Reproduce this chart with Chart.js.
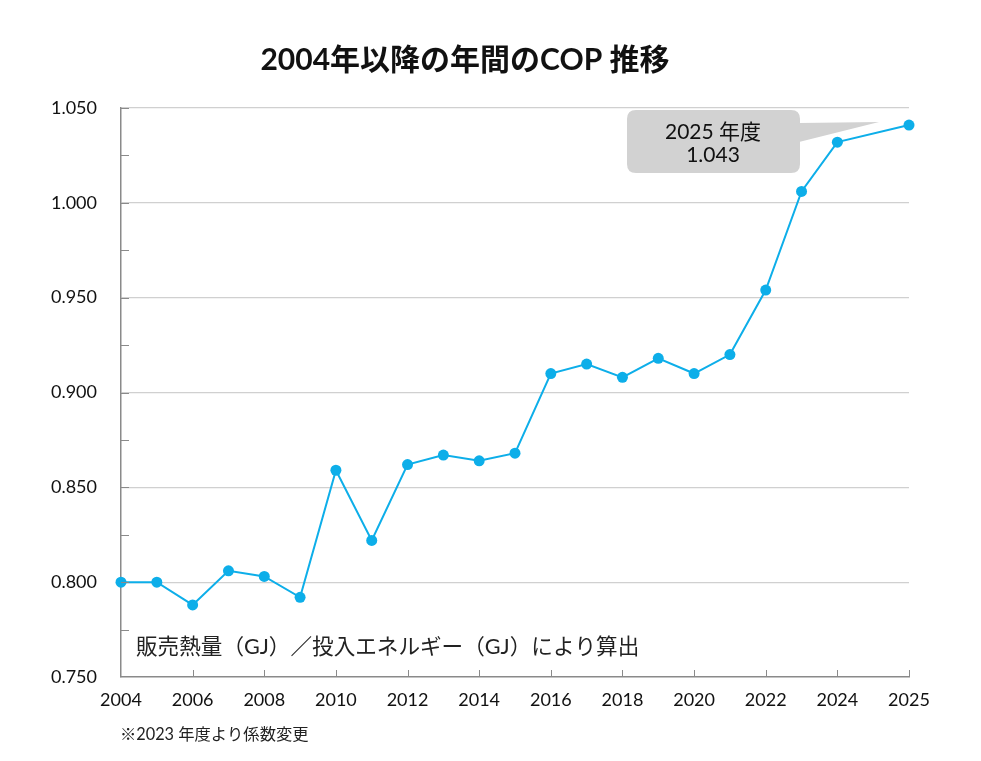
<!DOCTYPE html>
<html>
<head>
<meta charset="utf-8">
<script src="https://cdn.jsdelivr.net/npm/chart.js@4/dist/chart.umd.min.js"></script>
<style>
  html, body { margin: 0; padding: 0; background: #fff; }
  #wrap { width: 981px; height: 761px; position: relative; }
</style>
</head>
<body>
<div id="wrap"><canvas id="copChart"></canvas></div>
<script>
// data
// the source axis leaves one empty slot between 2024 and 2025
const axisSlots = ['2004', '2005', '2006', '2007', '2008', '2009', '2010', '2011', '2012', '2013', '2014',
  '2015', '2016', '2017', '2018', '2019', '2020', '2021', '2022', '2023', '2024', '', '2025'];
const years = ['2004', '2005', '2006', '2007', '2008', '2009', '2010', '2011', '2012', '2013', '2014',
  '2015', '2016', '2017', '2018', '2019', '2020', '2021', '2022', '2023', '2024', '2025'];
const copValues = [0.800, 0.800, 0.788, 0.806, 0.803, 0.792, 0.859, 0.822, 0.862, 0.867, 0.864,
  0.868, 0.910, 0.915, 0.908, 0.918, 0.910, 0.920, 0.954, 1.006, 1.032, 1.041];
const xTickYears = ['2004', '2006', '2008', '2010', '2012', '2014', '2016', '2018', '2020', '2022', '2024', '2025'];
const calloutLines = ['2025 年度', '1.043'];

const titleText = '2004年以降の年間のCOP 推移';
const noteText = '販売熱量（GJ）／投入エネルギー（GJ）により算出';
const footText = '※2023 年度より係数変更';

const FONT = 'Lato, "Noto Sans CJK JP", sans-serif';
const LINE_COLOR = '#0daee9';

const seriesData = axisSlots.map(s => {
  const i = years.indexOf(s);
  return i >= 0 ? copValues[i] : null;
});

// titles, note text, inner tick marks and the callout box
const decorations = {
  id: 'decorations',
  afterDraw(chart) {
    const ctx = chart.ctx;
    const x = chart.scales.x, y = chart.scales.y;
    const area = chart.chartArea;
    ctx.save();

    // inner tick marks on the y axis
    ctx.strokeStyle = '#8a8a8a';
    ctx.lineWidth = 1;
    for (let k = 1; k <= 12; k++) {
      const py = Math.round(y.getPixelForValue(0.75 + k * 0.025)) + 0.5;
      ctx.beginPath();
      ctx.moveTo(area.left, py);
      ctx.lineTo(area.left + 8, py);
      ctx.stroke();
    }
    // inner tick marks on the x axis
    xTickYears.slice(1).forEach(yr => {
      const px = Math.round(x.getPixelForValue(axisSlots.indexOf(yr))) + 0.5;
      ctx.beginPath();
      ctx.moveTo(px, area.bottom);
      ctx.lineTo(px, area.bottom - 7);
      ctx.stroke();
    });

    // title
    ctx.fillStyle = '#111';
    ctx.font = 'bold 30px ' + FONT;
    ctx.textAlign = 'center';
    ctx.textBaseline = 'middle';
    ctx.fillText(titleText, 465, 60);

    // note inside the plot
    ctx.font = '21.6px ' + FONT;
    ctx.textAlign = 'left';
    ctx.fillStyle = '#222';
    ctx.fillText(noteText, 136, 647);

    // footnote
    ctx.font = '16.3px ' + FONT;
    ctx.fillText(footText, 120, 735);

    // callout for the last year
    const li = axisSlots.length - 1;
    const px = x.getPixelForValue(li);
    const py = y.getPixelForValue(seriesData[li]);
    const bx = 627, by = 110, bw = 173, bh = 63, r = 9;
    ctx.fillStyle = '#d2d2d2';
    ctx.beginPath();
    ctx.moveTo(bx + r, by);
    ctx.lineTo(bx + bw - r, by);
    ctx.quadraticCurveTo(bx + bw, by, bx + bw, by + r);
    ctx.lineTo(bx + bw, by + bh - r);
    ctx.quadraticCurveTo(bx + bw, by + bh, bx + bw - r, by + bh);
    ctx.lineTo(bx + r, by + bh);
    ctx.quadraticCurveTo(bx, by + bh, bx, by + bh - r);
    ctx.lineTo(bx, by + r);
    ctx.quadraticCurveTo(bx, by, bx + r, by);
    ctx.closePath();
    ctx.fill();
    ctx.beginPath();
    ctx.moveTo(bx + bw - 1, by + 13);
    ctx.lineTo(px - 30, py - 3);
    ctx.lineTo(bx + bw - 1, by + 32);
    ctx.closePath();
    ctx.fill();
    ctx.fillStyle = '#111';
    ctx.font = '21px ' + FONT;
    ctx.textAlign = 'center';
    ctx.fillText(calloutLines[0], bx + 86, by + 22);
    ctx.fillText(calloutLines[1], bx + 86, by + 45);

    ctx.restore();
  }
};

const ctx = document.getElementById('copChart');
new Chart(ctx.getContext('2d'), {
  type: 'line',
  data: {
    labels: axisSlots,
    datasets: [{
      data: seriesData,
      borderColor: LINE_COLOR,
      backgroundColor: LINE_COLOR,
      borderWidth: 2,
      pointRadius: 5.5,
      pointHoverRadius: 5.5,
      pointBorderWidth: 0,
      tension: 0,
      spanGaps: true,
      clip: false
    }]
  },
  options: {
    responsive: true,
    maintainAspectRatio: false,
    animation: false,
    events: [],
    layout: { padding: { top: 108, right: 72, left: 0, bottom: 0 } },
    plugins: {
      legend: { display: false },
      tooltip: { enabled: false }
    },
    scales: {
      x: {
        type: 'category',
        offset: false,
        afterFit(scale) { scale.height = 84; },
        grid: { display: false, drawTicks: false },
        border: { display: true, color: '#8a8a8a', width: 1.5 },
        ticks: {
          padding: 12,
          maxRotation: 0,
          autoSkip: false,
          color: '#111',
          font: { family: FONT, size: 18 },
          callback: (v, i) => (xTickYears.includes(axisSlots[i]) ? axisSlots[i] : '')
        }
      },
      y: {
        min: 0.75,
        max: 1.05,
        afterFit(scale) { scale.width = 121; },
        ticks: {
          stepSize: 0.025,
          padding: 24,
          color: '#111',
          font: { family: FONT, size: 18 },
          callback: v => (Math.round(v * 1000) % 50 === 0 ? v.toFixed(3) : '')
        },
        grid: {
          drawTicks: false,
          lineWidth: 1.2,
          color: c => {
            const m = Math.round(c.tick.value * 1000);
            return (m % 50 === 0 && m > 750) ? '#d0d0d0' : 'rgba(0,0,0,0)';
          }
        },
        border: { display: true, color: '#8a8a8a', width: 1.5 }
      }
    }
  },
  plugins: [decorations]
});
</script>
</body>
</html>
